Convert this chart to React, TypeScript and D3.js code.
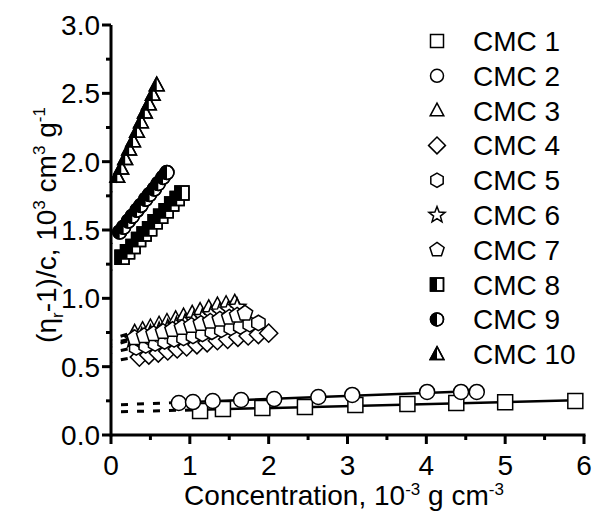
import React from "react";
import * as d3 from "d3";

const seriesNames = ["CMC 1", "CMC 2", "CMC 3", "CMC 4", "CMC 5", "CMC 6", "CMC 7", "CMC 8", "CMC 9", "CMC 10"];
const seriesSymbols = ["square", "circle", "triangle", "diamond", "hexagon", "star", "pentagon", "halfsquare", "halfcircle", "halftriangle"];

const cmc1C = [1.13, 1.42, 1.92, 2.46, 3.1, 3.76, 4.38, 5.0, 5.89];
const cmc1V = [0.176, 0.19, 0.198, 0.205, 0.22, 0.227, 0.234, 0.24, 0.249];
const cmc2C = [0.86, 1.04, 1.29, 1.65, 2.07, 2.63, 3.06, 4.01, 4.44, 4.64];
const cmc2V = [0.234, 0.241, 0.249, 0.256, 0.263, 0.278, 0.293, 0.315, 0.315, 0.315];
const cmc3C = [0.3, 0.4, 0.5, 0.61, 0.71, 0.82, 0.92, 1.03, 1.13, 1.24, 1.35, 1.46, 1.57];
const cmc3V = [0.75, 0.77, 0.79, 0.81, 0.83, 0.85, 0.87, 0.89, 0.91, 0.93, 0.95, 0.96, 0.97];
const cmc4C = [0.36, 0.48, 0.6, 0.72, 0.84, 0.96, 1.09, 1.22, 1.35, 1.48, 1.61, 1.74, 1.87, 2.0];
const cmc4V = [0.57, 0.585, 0.6, 0.615, 0.63, 0.645, 0.66, 0.675, 0.69, 0.7, 0.715, 0.725, 0.735, 0.745];
const cmc5C = [0.32, 0.44, 0.56, 0.68, 0.8, 0.92, 1.04, 1.16, 1.28, 1.4, 1.52, 1.64, 1.76, 1.87];
const cmc5V = [0.64, 0.655, 0.67, 0.685, 0.7, 0.71, 0.725, 0.74, 0.755, 0.77, 0.785, 0.795, 0.81, 0.82];
const cmc6C = [0.28, 0.39, 0.5, 0.61, 0.72, 0.83, 0.94, 1.05, 1.16, 1.27, 1.38, 1.49, 1.6];
const cmc6V = [0.7, 0.72, 0.74, 0.76, 0.78, 0.8, 0.82, 0.84, 0.86, 0.88, 0.9, 0.915, 0.935];
const cmc7C = [0.3, 0.42, 0.54, 0.66, 0.78, 0.9, 1.02, 1.14, 1.26, 1.38, 1.5, 1.6, 1.7];
const cmc7V = [0.71, 0.725, 0.74, 0.755, 0.77, 0.785, 0.8, 0.815, 0.83, 0.845, 0.86, 0.875, 0.89];
const cmc8C = [0.14, 0.21, 0.28, 0.35, 0.42, 0.49, 0.56, 0.63, 0.7, 0.77, 0.84, 0.9];
const cmc8V = [1.3, 1.34, 1.38, 1.43, 1.47, 1.51, 1.56, 1.6, 1.64, 1.69, 1.73, 1.77];
const cmc9C = [0.11, 0.16, 0.22, 0.27, 0.33, 0.38, 0.44, 0.49, 0.55, 0.6, 0.66, 0.71];
const cmc9V = [1.485, 1.52, 1.565, 1.6, 1.645, 1.68, 1.725, 1.76, 1.8, 1.84, 1.885, 1.92];
const cmc10C = [0.08, 0.13, 0.18, 0.23, 0.28, 0.33, 0.38, 0.43, 0.48, 0.53, 0.58];
const cmc10V = [1.89, 1.95, 2.02, 2.09, 2.15, 2.22, 2.29, 2.36, 2.42, 2.49, 2.56];

const seriesC = [cmc1C, cmc2C, cmc3C, cmc4C, cmc5C, cmc6C, cmc7C, cmc8C, cmc9C, cmc10C];
const seriesV = [cmc1V, cmc2V, cmc3V, cmc4V, cmc5V, cmc6V, cmc7V, cmc8V, cmc9V, cmc10V];

const xTicks = [0, 1, 2, 3, 4, 5, 6];
const yTicks = [0, 0.5, 1.0, 1.5, 2.0, 2.5, 3.0];

const W = 593;
const H = 511;
const X0 = 111, X1 = 584, Y0 = 435, Y1 = 25;
const FONT = "Arial, 'Liberation Sans', sans-serif";

function poly(n: number, r: number) {
  const pts: string[] = [];
  for (let k = 0; k < n; k++) {
    const a = -Math.PI / 2 + (2 * Math.PI * k) / n;
    pts.push(`${(r * Math.cos(a)).toFixed(2)},${(r * Math.sin(a)).toFixed(2)}`);
  }
  return "M" + pts.join("L") + "Z";
}
function starPath(ro: number, ri: number) {
  const pts: string[] = [];
  for (let k = 0; k < 10; k++) {
    const a = -Math.PI / 2 + (Math.PI * k) / 5;
    const r = k % 2 === 0 ? ro : ri;
    pts.push(`${(r * Math.cos(a)).toFixed(2)},${(r * Math.sin(a)).toFixed(2)}`);
  }
  return "M" + pts.join("L") + "Z";
}

function shapePath(kind: string, s: number) {
  const base = kind.replace("half", "");
  switch (base) {
    case "square":
      return `M${-s},${-s}H${s}V${s}H${-s}Z`;
    case "circle":
      return `M${-s},0A${s},${s} 0 1,0 ${s},0A${s},${s} 0 1,0 ${-s},0Z`;
    case "triangle":
      return `M0,${-s * 1.15}L${s * 1.05},${s * 0.8}L${-s * 1.05},${s * 0.8}Z`;
    case "diamond":
      return `M0,${-s * 1.3}L${s * 1.3},0L0,${s * 1.3}L${-s * 1.3},0Z`;
    case "hexagon":
      return poly(6, s * 1.1);
    case "pentagon":
      return poly(5, s * 1.15);
    case "star":
      return starPath(s * 1.3, s * 0.55);
  }
  return "";
}
function halfPath(kind: string, s: number) {
  const base = kind.replace("half", "");
  switch (base) {
    case "square":
      return `M${-s},${-s}H0V${s}H${-s}Z`;
    case "circle":
      return `M0,${-s}A${s},${s} 0 0,0 0,${s}Z`;
    case "triangle":
      return `M0,${-s * 1.15}L0,${s * 0.8}L${-s * 1.05},${s * 0.8}Z`;
  }
  return "";
}

function Marker({ kind, x, y, s }: { kind: string; x: number; y: number; s: number }) {
  const isHalf = kind.startsWith("half");
  return (
    <g transform={`translate(${x},${y})`}>
      <path d={shapePath(kind, s)} fill="#fff" stroke="#000" strokeWidth={1.5} strokeLinejoin="miter" />
      {isHalf && <path d={halfPath(kind, s)} fill="#000" stroke="none" />}
      {isHalf && <path d={shapePath(kind, s)} fill="none" stroke="#000" strokeWidth={1.5} />}
    </g>
  );
}

export default function App() {
  const x = d3.scaleLinear().domain([0, 6]).range([X0, X1]);
  const y = d3.scaleLinear().domain([0, 3]).range([Y0, Y1]);

  const fits = seriesC.map((cs, i) => {
    const vs = seriesV[i];
    const mx = d3.mean(cs) as number;
    const my = d3.mean(vs) as number;
    let num = 0, den = 0;
    cs.forEach((c, j) => {
      num += (c - mx) * (vs[j] - my);
      den += (c - mx) * (c - mx);
    });
    const slope = num / den;
    const icpt = my - slope * mx;
    return { slope, icpt, cmin: d3.min(cs) as number, cmax: d3.max(cs) as number };
  });

  const line = d3.line<[number, number]>().x((d) => x(d[0])).y((d) => y(d[1]));

  const xMinor = d3.range(0.5, 6, 1);
  const yMinor = d3.range(0.25, 3, 0.5);

  return (
    <svg width={W} height={H} style={{ position: "absolute", left: 0, top: 0 }} fontFamily={FONT}>
      <rect width={W} height={H} fill="#fff" />
      {/* fit lines */}
      {fits.map((f, i) => (
        <g key={"fit" + i}>
          <path
            d={line([[0, f.icpt], [f.cmin, f.icpt + f.slope * f.cmin]]) || ""}
            stroke="#000"
            strokeWidth={3}
            strokeDasharray="7,9"
            strokeDashoffset={-10}
            fill="none"
          />
          <path
            d={line([[f.cmin, f.icpt + f.slope * f.cmin], [f.cmax, f.icpt + f.slope * f.cmax]]) || ""}
            stroke="#000"
            strokeWidth={2.5}
            fill="none"
          />
        </g>
      ))}
      {/* markers */}
      {seriesC.map((cs, i) => (
        <g key={"m" + i}>
          {cs.map((c, j) => (
            <Marker key={j} kind={seriesSymbols[i]} x={x(c)} y={y(seriesV[i][j])} s={i < 2 ? 7.5 : 7} />
          ))}
        </g>
      ))}
      {/* axes */}
      <line x1={X0} x2={X1 + 1.5} y1={Y0} y2={Y0} stroke="#000" strokeWidth={3} />
      <line x1={X0} x2={X0} y1={Y1} y2={Y0 + 1.5} stroke="#000" strokeWidth={3} />
      {xTicks.map((t) => (
        <g key={"xt" + t}>
          <line x1={x(t)} x2={x(t)} y1={Y0} y2={Y0 + 9} stroke="#000" strokeWidth={3} />
          <text x={x(t)} y={Y0 + 40} textAnchor="middle" fontSize={28}>
            {t}
          </text>
        </g>
      ))}
      {xMinor.map((t) => (
        <line key={"xm" + t} x1={x(t)} x2={x(t)} y1={Y0} y2={Y0 + 5} stroke="#000" strokeWidth={3} />
      ))}
      {yTicks.map((t) => (
        <g key={"yt" + t}>
          <line x1={X0 - 9} x2={X0} y1={y(t)} y2={y(t)} stroke="#000" strokeWidth={3} />
          <text x={X0 - 11} y={y(t)} dy="0.36em" textAnchor="end" fontSize={28}>
            {t.toFixed(1)}
          </text>
        </g>
      ))}
      {yMinor.map((t) => (
        <line key={"ym" + t} x1={X0 - 5} x2={X0} y1={y(t)} y2={y(t)} stroke="#000" strokeWidth={3} />
      ))}
      {/* axis titles */}
      <text x={344} y={505} textAnchor="middle" fontSize={28}>
        Concentration, 10
        <tspan fontSize={17} dy={-10}>-3</tspan>
        <tspan dy={10}> g cm</tspan>
        <tspan fontSize={17} dy={-10}>-3</tspan>
      </text>
      <text transform={`translate(56,${(Y0 + Y1) / 2 - 5}) rotate(-90)`} textAnchor="middle" fontSize={28}>
        (η
        <tspan fontSize={17} dy={7}>r</tspan>
        <tspan dy={-7}>-1)/c, 10</tspan>
        <tspan fontSize={17} dy={-11}>3</tspan>
        <tspan dy={11}> cm</tspan>
        <tspan fontSize={17} dy={-11}>3</tspan>
        <tspan dy={11}> g</tspan>
        <tspan fontSize={17} dy={-11}>-1</tspan>
      </text>
      {/* legend */}
      {seriesNames.map((n, i) => {
        const ly = 41 + i * 34.8;
        return (
          <g key={"lg" + i}>
            <Marker kind={seriesSymbols[i]} x={437} y={ly} s={6.5} />
            <text x={473} y={ly} dy="0.36em" fontSize={28}>
              {n}
            </text>
          </g>
        );
      })}
    </svg>
  );
}
